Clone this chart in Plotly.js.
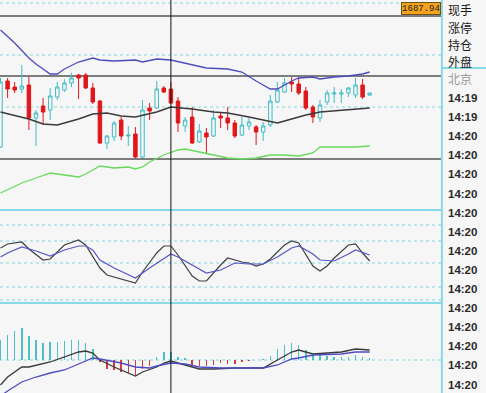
<!DOCTYPE html>
<html><head><meta charset="utf-8">
<script src="https://cdn.plot.ly/plotly-3.0.1.min.js"></script>
<style>html,body{margin:0;padding:0;background:#f6f6f6;}#chart{width:486px;height:393px;}</style>
</head><body><div id="chart"></div>
<script>
// ---------- DATA ----------
const candleIndex = Array.from({length: 53}, (_, i) => i);
const openP  = [1675.3,1681.9,1681.3,1681.1,1681.5,1678.2,1679.4,1679.0,1680.3,1681.0,1681.7,1682.5,1682.5,1681.2,1679.9,1675.7,1676.3,1678.0,1676.4,1676.6,1674.3,1679.2,1679.2,1681.2,1681.1,1679.9,1677.4,1678.3,1675.8,1676.7,1676.4,1678.4,1678.2,1677.7,1676.5,1677.4,1677.3,1676.8,1677.5,1679.8,1680.8,1681.8,1681.6,1680.9,1679.3,1678.2,1679.8,1680.6,1680.6,1680.7,1680.5,1681.5,1680.5];
const highP  = [1682.2,1682.2,1681.8,1683.5,1682.3,1679.0,1680.2,1681.2,1681.8,1682.1,1682.7,1682.6,1682.7,1681.7,1680.0,1676.5,1677.9,1678.3,1677.4,1677.3,1680.0,1679.7,1681.9,1681.4,1681.8,1680.3,1678.3,1679.3,1677.6,1677.2,1679.0,1678.8,1679.3,1678.0,1678.3,1678.2,1677.5,1677.8,1680.5,1681.8,1682.2,1682.3,1682.3,1681.3,1679.5,1680.0,1681.0,1681.3,1681.1,1681.3,1682.2,1682.1,1680.7];
const lowP   = [1675.2,1680.2,1680.7,1680.7,1677.0,1675.4,1677.5,1678.0,1680.0,1680.8,1681.3,1680.1,1681.1,1679.6,1675.6,1675.1,1675.9,1676.0,1675.4,1674.2,1674.2,1678.0,1679.1,1680.7,1679.6,1676.8,1676.8,1675.6,1675.7,1674.7,1676.3,1677.2,1677.0,1676.2,1676.4,1677.0,1675.5,1675.9,1677.3,1679.7,1680.7,1680.8,1680.5,1679.0,1677.7,1677.8,1679.5,1679.7,1679.7,1680.3,1680.2,1680.1,1680.4];
const closeP = [1681.8,1681.1,1681.0,1681.4,1678.2,1678.7,1678.8,1680.4,1681.3,1681.7,1682.2,1682.2,1681.2,1679.8,1675.7,1676.4,1677.7,1676.4,1676.5,1674.3,1679.0,1678.9,1681.1,1680.8,1679.7,1677.7,1678.0,1675.7,1676.9,1676.3,1678.2,1678.2,1677.7,1676.4,1677.5,1677.8,1676.8,1677.4,1679.9,1681.0,1681.7,1681.6,1680.7,1679.2,1678.3,1679.5,1680.7,1680.7,1680.7,1681.2,1681.5,1680.3,1680.7];

// price-panel averages (sampled at candle indices)
const blueMaIdx = [0,2,4,5,7,8,9,11,13,14,16,19,20,22,24,26,29,32,34,36,38,39,40,41,42,44,45,47,49,51,52];
const blueMa    = [1687.0,1685.7,1684.2,1683.6,1682.6,1682.6,1683.1,1683.8,1684.2,1684.0,1683.9,1684.0,1683.8,1684.1,1684.0,1683.7,1683.2,1683.1,1682.8,1681.9,1681.1,1681.1,1681.5,1681.9,1682.2,1682.3,1682.1,1682.3,1682.4,1682.6,1682.8];
const blackMaIdx = [0,4,6,8,11,13,15,17,19,21,22,24,26,27,30,32,35,37,38,39,40,43,45,47,50,52];
const blackMa    = [1678.8,1678.1,1677.6,1677.5,1678.1,1678.6,1678.7,1678.4,1678.3,1678.6,1678.8,1679.3,1679.2,1679.1,1678.8,1678.7,1678.3,1678.0,1677.8,1677.7,1677.9,1678.5,1678.8,1678.9,1679.1,1679.2];
const greenMaIdx = [0,3,5,7,9,11,12,14,16,18,19,20,21,23,25,26,28,30,32,34,36,38,40,42,44,45,47,50,52];
const greenMa    = [1670.7,1671.7,1672.2,1672.7,1672.5,1672.3,1672.6,1673.4,1673.2,1673.3,1673.1,1673.3,1673.8,1674.5,1675.0,1675.1,1674.8,1674.5,1674.2,1674.1,1674.2,1674.5,1674.5,1674.4,1674.7,1675.3,1675.3,1675.3,1675.4];
const priceLevels = [1688.4, 1682.4, 1674.1];
const priceGrid   = [1689.7, 1684.5, 1679.3];
const cursorIndex = 24;
const cursorPrice = '1687.94';

// KDJ panel
const kIdx = [0,1,3,4,6,7,9,11,12,14,15,17,19,20,22,23,24,25,27,28,29,31,32,34,35,36,37,38,40,41,42,44,45,46,47,49,50,51,52];
const kVal = [52,56,58,51,40,41,55,60,55,32,25,21,17,28,47,54,54,45,24,19,19,35,42,38,37,34,36,41,55,59,57,34,29,34,42,55,56,47,39];
const dIdx = [0,1,3,5,7,9,11,12,13,14,16,19,21,24,25,26,29,31,33,35,37,39,41,42,44,45,47,49,50,52];
const dVal = [43,47,53,49,44,50,54,54,50,40,32,22,32,46,43,39,27,30,37,36,36,43,52,54,46,40,39,46,50,45];
const kdjGrid = [75, 59, 37, 13, 0];

// MACD panel
const macdHist = [2.0,2.5,2.9,3.2,2.4,2.0,1.7,1.8,1.8,1.9,2.0,2.0,1.7,1.1,-0.2,-0.9,-1.0,-1.2,-1.3,-1.5,-0.9,-0.6,0.3,0.8,0.8,0.3,0.2,-0.6,-0.6,-0.6,-0.5,-0.3,-0.4,-0.4,-0.2,-0.1,0.0,0.1,0.4,1.1,1.5,1.7,1.5,1.0,0.6,0.5,0.4,0.3,0.3,0.3,0.5,0.3,0.2];
const difIdx = [0,1,3,4,7,9,11,12,13,14,16,19,20,22,23,24,25,27,28,30,33,37,39,41,42,43,44,46,48,50,52];
const difVal = [-2.5,-1.7,-0.7,-0.7,-0.2,0.3,0.8,0.9,0.7,0.0,-0.7,-1.6,-1.2,-0.7,-0.3,-0.1,-0.3,-0.7,-0.9,-0.9,-0.8,-0.8,0.0,0.8,1.0,0.8,0.6,0.7,0.8,1.1,1.0];
const deaIdx = [0,1,3,5,7,9,11,13,14,17,19,21,22,24,26,28,31,37,39,41,42,44,48,50,52];
const deaVal = [-3.6,-3.1,-2.2,-1.7,-1.3,-1.0,-0.4,0.2,0.1,-0.3,-0.7,-0.8,-0.6,-0.3,-0.4,-0.7,-0.8,-0.8,-0.5,0.1,0.2,0.5,0.6,0.8,0.8];

// right column texts
const infoLabels = ['现手','涨停','持仓','外盘'];
const placeLabel = '北京';
const timeLabels = ['14:19','14:19','14:20','14:20','14:20','14:20','14:20','14:20','14:20','14:20','14:20','14:20','14:20','14:20','14:20','14:20'];

// ---------- STYLE / LAYOUT ----------
const W = 486, H = 393, PW = 441;
const px = p => p / PW;
const py = p => 1 - p / H;
const CYAN = '#7fd6e2', CYAN_SOLID = '#86d9e6';
const BG = '#f6f6f6';

const traces = [
  {type:'candlestick', x:candleIndex, open:openP, high:highP, low:lowP, close:closeP,
   xaxis:'x', yaxis:'y', whiskerwidth:0,
   increasing:{line:{color:'#3fbcc6', width:1}, fillcolor:BG},
   decreasing:{line:{color:'#e0161a', width:1}, fillcolor:'#e0161a'}},
  {type:'scatter', mode:'lines', x:blueMaIdx, y:blueMa, yaxis:'y', line:{color:'#4c4cbf', width:1.3}},
  {type:'scatter', mode:'lines', x:blackMaIdx, y:blackMa, yaxis:'y', line:{color:'#3a3a3a', width:1.4}},
  {type:'scatter', mode:'lines', x:greenMaIdx, y:greenMa, yaxis:'y', line:{color:'#66da5c', width:1.3}},
  {type:'scatter', mode:'lines', x:kIdx, y:kVal, yaxis:'y2', line:{color:'#404040', width:1.2}},
  {type:'scatter', mode:'lines', x:dIdx, y:dVal, yaxis:'y2', line:{color:'#5656c8', width:1.2}},
  {type:'bar', x:candleIndex, y:macdHist, yaxis:'y3', width:0.22,
   marker:{color: macdHist.map(v => v >= 0 ? '#4cbfc8' : '#d83a3a'), line:{width:0}}},
  {type:'scatter', mode:'lines', x:difIdx, y:difVal, yaxis:'y3', line:{color:'#3a3a3a', width:1.3}},
  {type:'scatter', mode:'lines', x:deaIdx, y:deaVal, yaxis:'y3', line:{color:'#4c4cc4', width:1.3}}
];

const shapes = [];
const hline = (yref, y, color, width, dash) => shapes.push({type:'line', xref:'paper', x0:0, x1:1, yref, y0:y, y1:y, line:{color, width, dash}, layer:'below'});
priceGrid.forEach(v => hline('y', v, CYAN, 1, 'dot'));
priceLevels.forEach(v => hline('y', v, '#555555', 1.5, 'solid'));
kdjGrid.forEach(v => hline('y2', v, CYAN, 1, 'dot'));
hline('y3', 0, CYAN, 1, 'dot');
// panel borders
[210, 303].forEach(p => shapes.push({type:'line', xref:'paper', yref:'paper', x0:0, x1:1, y0:py(p), y1:py(p), line:{color:CYAN_SOLID, width:2}}));
// right border & right column separator
shapes.push({type:'line', xref:'paper', yref:'paper', x0:1.002, x1:1.002, y0:0, y1:1, line:{color:CYAN_SOLID, width:2}});
shapes.push({type:'line', xref:'paper', yref:'paper', x0:1.002, x1:W/PW, y0:py(68), y1:py(68), line:{color:CYAN_SOLID, width:2}});
// crosshair
shapes.push({type:'line', xref:'x', yref:'paper', x0:cursorIndex, x1:cursorIndex, y0:0, y1:1, line:{color:'#111111', width:1}});

const annotations = [];
infoLabels.forEach((t, k) => annotations.push({xref:'paper', yref:'paper', x:px(446), y:py(9.5 + 17.5*k), xanchor:'left', yanchor:'middle', text:t, showarrow:false, font:{family:'Noto Sans CJK SC', size:12, color:'#1a1a1a'}}));
annotations.push({xref:'paper', yref:'paper', x:px(446), y:py(78.5), xanchor:'left', yanchor:'middle', text:placeLabel, showarrow:false, font:{family:'Noto Sans CJK SC', size:12, color:'#9a9a9a'}});
timeLabels.forEach((t, k) => annotations.push({xref:'paper', yref:'paper', x:px(446), y:py(98 + 19.1*k), xanchor:'left', yanchor:'middle', text:'<b>'+t+'</b>', showarrow:false, font:{family:'Liberation Sans', size:11.5, color:'#2a2a2a'}}));
annotations.push({xref:'paper', yref:'paper', x:px(420.5), y:py(8.5), xanchor:'center', yanchor:'middle', text:cursorPrice, showarrow:false,
  bgcolor:'#f3a21e', bordercolor:'#6b5213', borderwidth:1, borderpad:0, width:38, height:11,
  font:{family:'Liberation Mono', size:9, color:'#222'}});

const hidden = {showgrid:false, zeroline:false, showticklabels:false, showline:false, ticks:'', fixedrange:true};
const layout = {
  width:W, height:H, margin:{l:0, r:W-PW, t:0, b:0},
  paper_bgcolor:BG, plot_bgcolor:BG, showlegend:false, bargap:0,
  xaxis:Object.assign({range:[-0.07, 62.04], rangeslider:{visible:false}}, hidden),
  yaxis:Object.assign({domain:[py(210), 1], range:[1669, 1690]}, hidden),
  yaxis2:Object.assign({domain:[py(303), py(210)], range:[-3, 90], anchor:'x'}, hidden),
  yaxis3:Object.assign({domain:[0, py(303)], range:[-3.3, 5.7], anchor:'x'}, hidden),
  shapes, annotations
};
Plotly.newPlot('chart', traces, layout, {staticPlot:true, displayModeBar:false});
</script></body></html>
